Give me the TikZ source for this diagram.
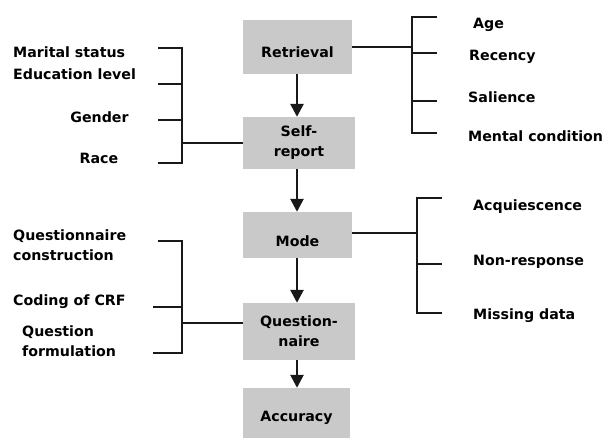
\documentclass[tikz,border=0pt]{standalone}
\usepackage{fontspec}
\setmainfont{DejaVu Sans}
\usetikzlibrary{arrows.meta}
\newcommand{\lowtext}[2]{\raisebox{-#1}[\height][\depth]{#2}}
\begin{document}
\begin{tikzpicture}[x=1pt,y=-1pt,
  every node/.style={font=\bfseries\fontsize{14.2}{20}\selectfont, text=black},
  stage/.style={fill=black!21, inner sep=0pt, align=center, text=black},
  lbl/.style={anchor=west, inner sep=0pt, align=left},
  brk/.style={line width=2.8pt, black!90},
  conn/.style={line width=1.8pt, black!90},
  arr/.style={line width=2.6pt, black!90, -{Triangle[length=13pt,width=13pt]}}]
\useasboundingbox (0,0) rectangle (605,438);
% stages
\node[stage, minimum width=109pt, minimum height=54pt] (ret) at (297.5,47) {\lowtext{5.5pt}{Retrieval}};
\node[stage, minimum width=112pt, minimum height=52pt] (self) at (299,143) {Self-\\report};
\node[stage, minimum width=109pt, minimum height=46pt] (mode) at (297.5,235) {\lowtext{6pt}{Mode}};
\node[stage, minimum width=112pt, minimum height=57pt] (quest) at (299,331.5) {Question-\\naire};
\node[stage, minimum width=107pt, minimum height=50pt] (acc) at (296.5,413) {\lowtext{5pt}{Accuracy}};
% arrows
\draw[arr] (ret.south -| 297,0) -- (self.north -| 297,0);
\draw[arr] (self.south -| 297,0) -- (mode.north -| 297,0);
\draw[arr] (mode.south -| 297,0) -- (quest.north -| 297,0);
\draw[arr] (quest.south -| 297,0) -- (acc.north -| 297,0);
% left bracket 1
\coordinate (l1a) at (182,48);
\coordinate (l1b) at (182,84);
\coordinate (l1c) at (182,120);
\coordinate (l1d) at (182,163);
\coordinate (l1m) at (182,143);
\draw[brk] (158,48) -- (l1a) -- (l1d) -- (158,163);
\draw[brk] (158,84) -- (l1b);
\draw[brk] (158,120) -- (l1c);
\draw[conn] (l1m) -- (self.west |- l1m);
\node[lbl] (ms) at (13,52) {Marital status};
\node[lbl] (ed) at (13,74) {Education level};
\node (ge) at (99.5,117) {Gender};
\node (ra) at (99,158) {Race};
% right bracket 1
\coordinate (r1a) at (412,17);
\coordinate (r1b) at (412,53);
\coordinate (r1c) at (412,101);
\coordinate (r1d) at (412,133);
\coordinate (r1m) at (412,47);
\draw[brk] (437,17) -- (r1a) -- (r1d) -- (437,133);
\draw[brk] (437,53) -- (r1b);
\draw[brk] (437,101) -- (r1c);
\draw[conn] (ret.east) -- (r1m);
\node[lbl] (age) at (473,25) {Age};
\node[lbl] (rec) at (469,57) {Recency};
\node[lbl] (sal) at (468,97) {Salience};
\node[lbl] (men) at (468,136) {Mental condition};
% left bracket 2
\coordinate (l2a) at (182,241);
\coordinate (l2b) at (182,307);
\coordinate (l2d) at (182,353);
\coordinate (l2m) at (182,323);
\draw[brk] (158,241) -- (l2a) -- (l2d) -- (153,353);
\draw[brk] (153,307) -- (l2b);
\draw[conn] (l2m) -- (quest.west |- l2m);
\node[lbl] (qc) at (13,245) {Questionnaire\\construction};
\node[lbl] (cc) at (13,302) {Coding of CRF};
\node[lbl] (qf) at (22,341) {Question\\formulation};
% right bracket 2
\coordinate (r2a) at (417,198);
\coordinate (r2b) at (417,264);
\coordinate (r2d) at (417,313);
\coordinate (r2m) at (417,233);
\draw[brk] (442,198) -- (r2a) -- (r2d) -- (442,313);
\draw[brk] (442,264) -- (r2b);
\draw[conn] (mode.east |- r2m) -- (r2m);
\node[lbl] (acq) at (473,207) {Acquiescence};
\node[lbl] (non) at (473,262) {Non-response};
\node[lbl] (mis) at (473,316) {Missing data};
\end{tikzpicture}
\end{document}
